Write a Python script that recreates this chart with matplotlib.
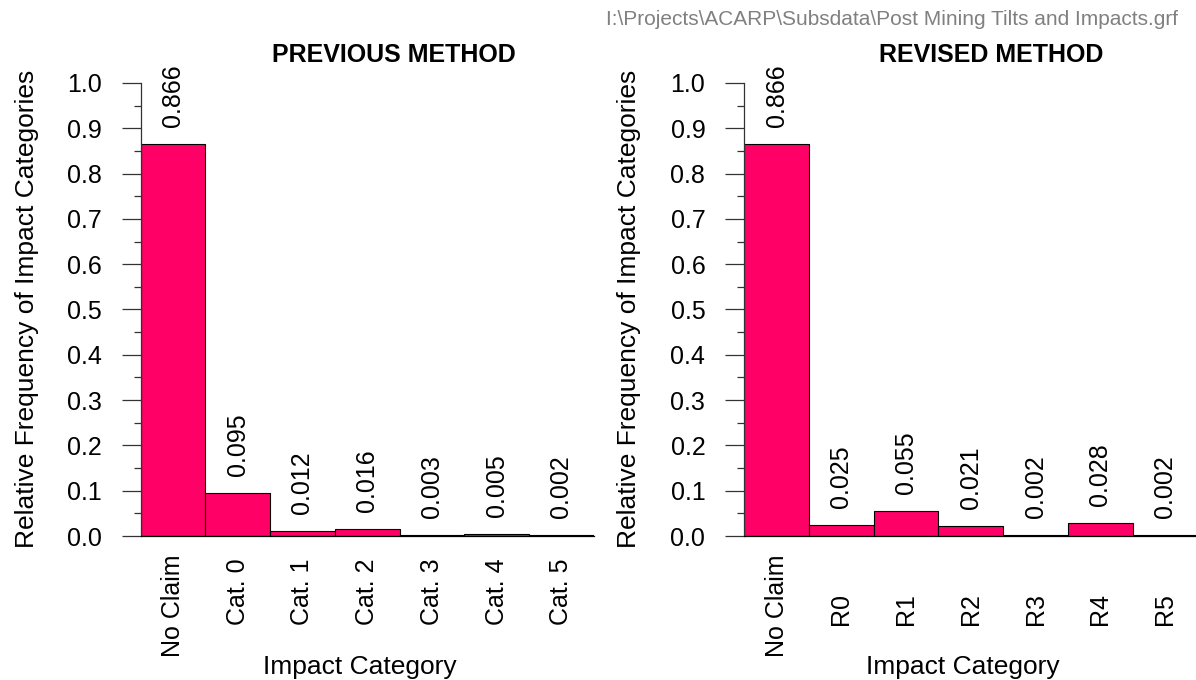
import matplotlib
matplotlib.use("Agg")
import matplotlib.pyplot as plt
from matplotlib.ticker import MultipleLocator
import matplotlib.transforms as mtransforms

plt.rcParams['font.family'] = ['Liberation Sans', 'DejaVu Sans']

prev_labels = ["No Claim", "Cat. 0", "Cat. 1", "Cat. 2", "Cat. 3", "Cat. 4", "Cat. 5"]
prev_values = [0.866, 0.095, 0.012, 0.016, 0.003, 0.005, 0.002]
rev_labels = ["No Claim", "R0", "R1", "R2", "R3", "R4", "R5"]
rev_values = [0.866, 0.025, 0.055, 0.021, 0.002, 0.028, 0.002]
value_texts_prev = ["0.866", "0.095", "0.012", "0.016", "0.003", "0.005", "0.002"]
value_texts_rev = ["0.866", "0.025", "0.055", "0.021", "0.002", "0.028", "0.002"]

W, H = 1196, 680
DPI = 100
fig = plt.figure(figsize=(W / DPI, H / DPI), dpi=DPI)

BAR_COLOR = "#FF0066"
AX_COLOR = "#333333"
PX = 72.0 / DPI  # points per pixel


def px_box(x0, y_top, w, h):
    return [x0 / W, 1 - (y_top + h) / H, w / W, h / H]


def draw_panel(rect, labels, values, vtexts, title, title_x):
    ax = fig.add_axes(rect)
    xs = list(range(len(values)))
    ax.bar(xs, values, width=1.0, align='edge', color=BAR_COLOR,
           edgecolor='black', linewidth=0.8, zorder=2)
    ax.set_xlim(0, len(values))
    ax.set_ylim(0, 1.0)
    for s in ['top', 'right']:
        ax.spines[s].set_visible(False)
    ax.spines['left'].set_color(AX_COLOR)
    ax.spines['left'].set_linewidth(0.9)
    ax.spines['bottom'].set_color('black')
    ax.spines['bottom'].set_linewidth(0.9)
    ax.yaxis.set_major_locator(MultipleLocator(0.1))
    ax.yaxis.set_minor_locator(MultipleLocator(0.05))
    ax.yaxis.set_major_formatter(matplotlib.ticker.FormatStrFormatter('%.1f'))
    ax.tick_params(axis='y', which='major', length=19 * PX, width=0.9,
                   color=AX_COLOR, pad=14.4, labelsize=18)
    ax.tick_params(axis='y', which='minor', length=7.5 * PX, width=0.9,
                   color=AX_COLOR)
    ax.set_xticks([])
    ax.patch.set_alpha(0)

    # value labels above bars
    for x, v, t in zip(xs, values, vtexts):
        tr = mtransforms.offset_copy(ax.transData, fig=fig, x=0, y=17 * PX,
                                     units='points')
        ax.text(x + 0.5, v, t, transform=tr, rotation=90, ha='center',
                va='bottom', fontsize=18, clip_on=False)

    # category labels (rotated)
    for x, lab in zip(xs, labels):
        off = 121 if lab == "No Claim" else 89
        tr = mtransforms.offset_copy(ax.get_xaxis_transform(), fig=fig, x=0,
                                     y=-off * PX, units='points')
        ax.text(x + 0.5, 0, lab, transform=tr, rotation=90, ha='center',
                va='bottom', fontsize=18, clip_on=False)

    fig.text(title_x / W, 1 - 62 / H, title, ha='center', va='baseline',
             fontsize=18, fontweight='bold')
    return ax


axL = draw_panel(px_box(140.7, 83, 453, 453), prev_labels, prev_values,
                 value_texts_prev, "PREVIOUS METHOD", 394)
axR = draw_panel(px_box(744.3, 83, 453, 453), rev_labels, rev_values,
                 value_texts_rev, "REVISED METHOD", 991)

# axis titles
for xc in (27, 629):
    fig.text(xc / W, 1 - 309 / H, "Relative Frequency of Impact Categories",
             rotation=90, ha='center', va='center', fontsize=19)
for xc in (360, 963):
    fig.text(xc / W, 1 - 674 / H, "Impact Category", ha='center',
             va='baseline', fontsize=19)

fig.text(1178 / W, 1 - 25 / H,
         "I:\\Projects\\ACARP\\Subsdata\\Post Mining Tilts and Impacts.grf",
         ha='right', va='baseline', fontsize=15, color='#808080')

fig.savefig("out.png", dpi=DPI)
